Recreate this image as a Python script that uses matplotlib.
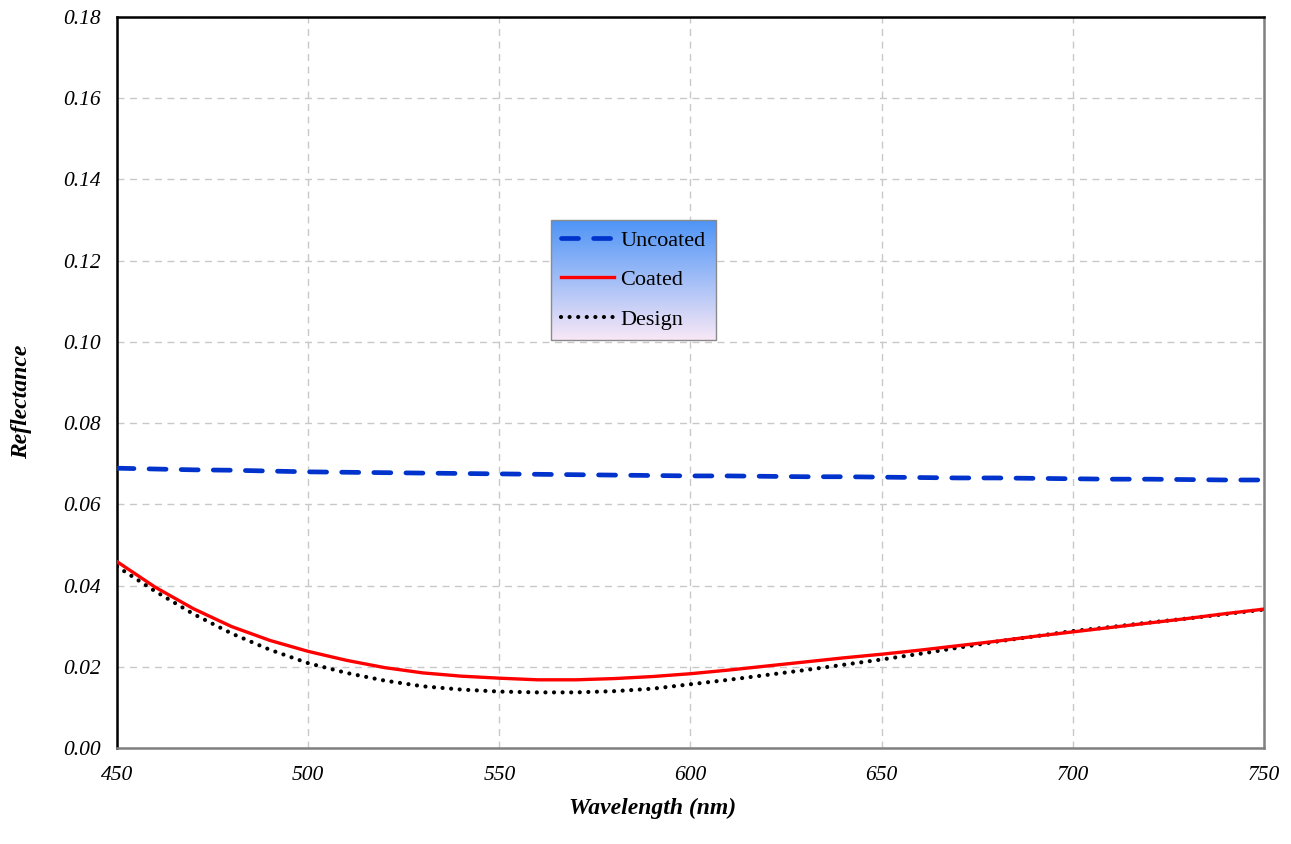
import numpy as np
import matplotlib
matplotlib.use("Agg")
import matplotlib.pyplot as plt

# wavelength grid (nm) and reflectance
wavelength = [450, 460, 470, 480, 490, 500, 510, 520, 530, 540, 550,
              560, 570, 580, 590, 600, 610, 620, 630, 640, 650,
              660, 670, 680, 690, 700, 710, 720, 730, 740, 750]

uncoated = [0.0689, 0.0687, 0.0685, 0.0684, 0.0682, 0.0680, 0.0679, 0.0678, 0.0677, 0.0676, 0.0675,
            0.0674, 0.0673, 0.0672, 0.0671, 0.0670, 0.0670, 0.0669, 0.0668, 0.0668, 0.0667,
            0.0666, 0.0665, 0.0665, 0.0664, 0.0663, 0.0662, 0.0662, 0.0661, 0.0660, 0.0660]

coated = [0.0459, 0.0396, 0.0343, 0.0299, 0.0265, 0.0238, 0.0216, 0.0198, 0.0185, 0.0177, 0.0172,
          0.0168, 0.0168, 0.0171, 0.0176, 0.0183, 0.0192, 0.0202, 0.0212, 0.0222, 0.0231,
          0.0241, 0.0252, 0.0263, 0.0275, 0.0286, 0.0297, 0.0308, 0.0319, 0.0331, 0.0342]

design = [0.0447, 0.0386, 0.0330, 0.0282, 0.0242, 0.0209, 0.0185, 0.0166, 0.0152, 0.0144, 0.0139,
          0.0137, 0.0137, 0.0140, 0.0146, 0.0157, 0.0168, 0.0180, 0.0192, 0.0205, 0.0218,
          0.0232, 0.0247, 0.0262, 0.0275, 0.0288, 0.0298, 0.0309, 0.0319, 0.0330, 0.0341]

x_ticks = [450, 500, 550, 600, 650, 700, 750]
y_ticks = [0.00, 0.02, 0.04, 0.06, 0.08, 0.10, 0.12, 0.14, 0.16, 0.18]

plt.rcParams['font.family'] = ['Liberation Serif', 'DejaVu Serif']

fig = plt.figure(figsize=(12.91, 8.44), dpi=100)
ax = fig.add_axes([0.0906, 0.1137, 0.8885, 0.8662])

ax.plot(wavelength, uncoated, color='#0033cc', lw=3.4, dashes=(3.6, 3.2),
        dash_capstyle='round', label='Uncoated', zorder=3)
ax.plot(wavelength, coated, color='#ff0000', lw=2.4, label='Coated', zorder=3)
ax.plot(wavelength, design, color='black', lw=3.0, dashes=(0.01, 2.05),
        dash_capstyle='round', label='Design', zorder=2)

ax.set_xlim(450, 750)
ax.set_ylim(0, 0.18)
ax.set_xticks(x_ticks)
ax.set_yticks(y_ticks)
ax.set_xticklabels([str(t) for t in x_ticks], fontstyle='italic', fontsize=15.5)
ax.set_yticklabels(['%.2f' % t for t in y_ticks], fontstyle='italic', fontsize=15.5)
ax.tick_params(axis='y', length=0, pad=12)
ax.tick_params(axis='x', length=0, pad=13)

ax.grid(True, color='#c8c8c8', ls=(0, (5, 4)), lw=1.0)
ax.set_axisbelow(True)

for side in ['left', 'top']:
    ax.spines[side].set_color('black')
    ax.spines[side].set_linewidth(1.8)
for side in ['right', 'bottom']:
    ax.spines[side].set_color('#808080')
    ax.spines[side].set_linewidth(1.8)

ax.set_xlabel('Wavelength (nm)', fontsize=17, fontweight='bold', fontstyle='italic')
ax.set_ylabel('Reflectance', fontsize=17, fontweight='bold', fontstyle='italic')
ax.xaxis.set_label_coords(0.467, -0.068)
ax.yaxis.set_label_coords(-0.074, 0.474)

leg = ax.legend(loc='upper left', bbox_to_anchor=(0.378, 0.722), fontsize=16,
                handlelength=2.4, handletextpad=0.3, labelspacing=0.85,
                borderpad=0.45, borderaxespad=0, fancybox=False,
                facecolor='none', edgecolor='#8a8a8a', framealpha=1)
leg.get_frame().set_linewidth(1.0)
leg.set_zorder(6)

# gradient fill behind the legend (blue at top fading to pale pink)
fig.canvas.draw()
bb = leg.get_frame().get_window_extent().transformed(ax.transAxes.inverted())
top_col = np.array([77, 148, 247]) / 255.0
bot_col = np.array([248, 232, 246]) / 255.0
t = np.linspace(0, 1, 256)[:, None]
grad = (top_col * (1 - t) + bot_col * t)[:, None, :]
ax.imshow(grad, extent=[bb.x0, bb.x1, bb.y0, bb.y1], transform=ax.transAxes,
          aspect='auto', zorder=5, origin='upper')
ax.set_xlim(450, 750)
ax.set_ylim(0, 0.18)

fig.savefig('out.png', dpi=100)
